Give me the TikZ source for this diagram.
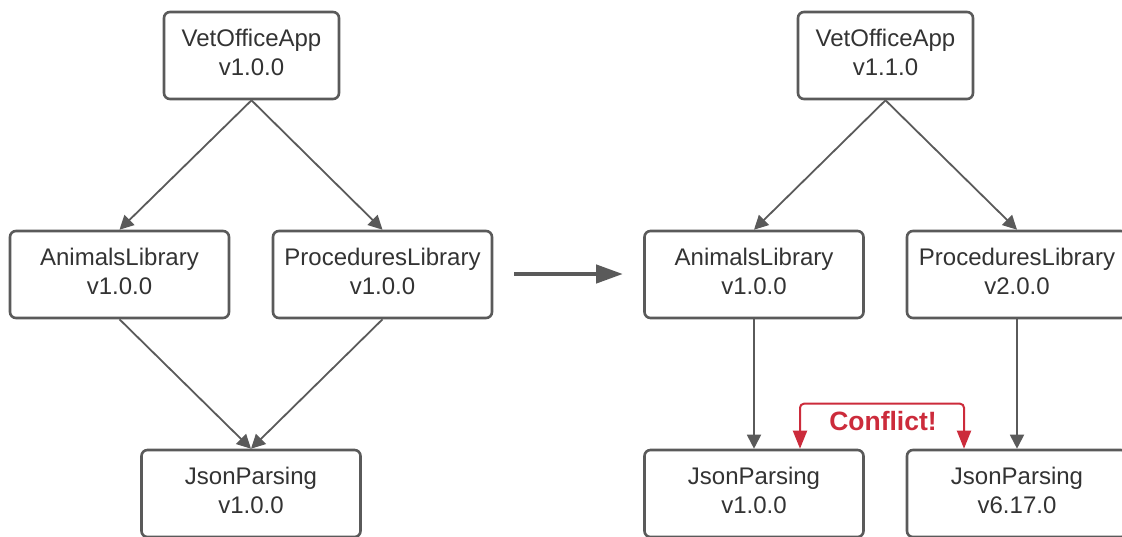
\documentclass[tikz,border=0pt]{standalone}
\usepackage{fontspec}
\setmainfont{Liberation Sans}
\usetikzlibrary{arrows.meta}
\definecolor{linegray}{HTML}{5A5A5A}
\definecolor{textgray}{HTML}{333333}
\definecolor{conflictred}{HTML}{CC2B3B}
\begin{document}
\begin{tikzpicture}[x = 1pt, y = -1pt,
        pkg/.style = {draw = linegray, line width = 2.6pt, rounded corners = 6pt, fill = white,
            minimum width = 219pt, minimum height = 87pt, align = center, text = textgray,
            font = \fontsize{24}{29}\selectfont, inner sep = 0pt, text depth = 6pt},
        dep/.style = {draw = linegray, line width = 1.8pt, -{Triangle[length = 14pt, width = 14pt]}},
        conflict/.style = {draw = conflictred, line width = 2pt, rounded corners = 4pt,
            {Triangle[length = 18pt, width = 14pt]}-{Triangle[length = 18pt, width = 14pt]}}]
        \useasboundingbox (0, 0) rectangle (1122, 536);
        % before
        \node [pkg, minimum width = 175pt] (appold) at (251.5, 55.5) {VetOfficeApp\\v1.0.0};
        \node [pkg] (animold) at (119.5, 274.5) {AnimalsLibrary\\v1.0.0};
        \node [pkg] (procold) at (382.5, 274.5) {ProceduresLibrary\\v1.0.0};
        \node [pkg] (jsonold) at (251, 493.5) {JsonParsing\\v1.0.0};
        \draw [dep] (appold.south) -- (animold.north);
        \draw [dep] (appold.south) -- (procold.north);
        \draw [dep] (animold.south) -- (jsonold.north);
        \draw [dep] (procold.south) -- (jsonold.north);
        % after
        \node [pkg, minimum width = 175pt] (appnew) at (885.5, 55.5) {VetOfficeApp\\v1.1.0};
        \node [pkg] (animnew) at (754, 274.5) {AnimalsLibrary\\v1.0.0};
        \node [pkg, minimum width = 220pt] (procnew) at (1017, 274.5) {ProceduresLibrary\\v2.0.0};
        \node [pkg] (jsonone) at (754, 493.5) {JsonParsing\\v1.0.0};
        \node [pkg, minimum width = 220pt] (jsontwo) at (1017, 493.5) {JsonParsing\\v6.17.0};
        \draw [dep] (appnew.south) -- (animnew.north);
        \draw [dep] (appnew.south) -- (procnew.north);
        \draw [dep] (animnew.south) -- (jsonone.north);
        \draw [dep] (procnew.south) -- (jsontwo.north);
        % upgrade arrow
        \coordinate (upfrom) at (514, 274);
        \coordinate (upto) at (623, 274);
        \draw [linegray, line width = 4.5pt, -{Triangle[length = 27pt, width = 18pt]}] (upfrom) -- (upto);
        % conflict
        \draw [conflict] ([xshift = 46pt] jsonone.north) -- ++(0, -45) -| ([xshift = -53pt] jsontwo.north);
        \node [text = conflictred, font = \fontsize{26.5}{30}\bfseries] (clash) at (883, 421) {Conflict!};
    \end{tikzpicture}
\end{document}
